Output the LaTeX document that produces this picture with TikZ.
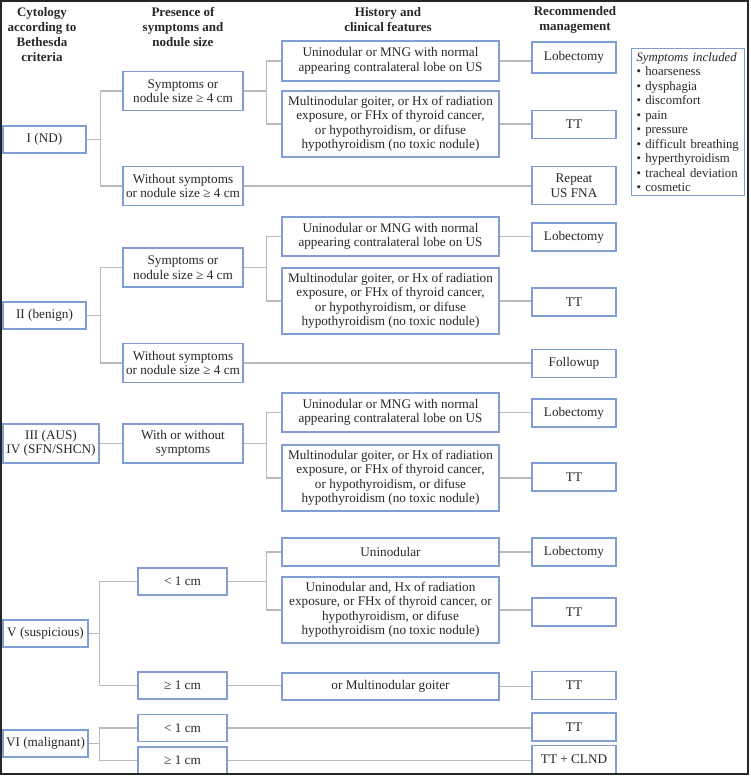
\documentclass[tikz,border=0pt]{standalone}
\usepackage{fontspec}
\setmainfont{Liberation Serif}
\definecolor{boxblue}{RGB}{128,158,214}
\definecolor{linkgray}{RGB}{185,185,185}
\definecolor{txtgray}{RGB}{40,40,40}
\begin{document}
\begin{tikzpicture}[x=1pt,y=-1pt,
  every node/.style={font=\fontsize{13.2}{14.5}\selectfont, text=txtgray},
  hd/.style={font=\bfseries\fontsize{13}{15}\selectfont, align=center, inner sep=0pt},
  bx/.style={draw=boxblue, line width=1.3pt, fill=white, align=center, inner sep=0pt},
  cyt/.style={bx, minimum width=83, minimum height=27},
  sym/.style={bx, minimum width=120, minimum height=39},
  size/.style={bx, minimum width=89, minimum height=27},
  hist/.style={bx, minimum width=217},
  mg/.style={bx, minimum width=84, minimum height=28},
  link/.style={draw=linkgray, line width=1.3pt}]
\useasboundingbox (0,0) rectangle (750,778);
\fill[white] (0,0) rectangle (750,778);

\draw (42,34.5) node[hd] (hcyt) {Cytology\\according to\\Bethesda\\criteria};
\draw (183,27) node[hd] (hsym) {Presence of\\symptoms and\\nodule size};
\draw (388,19.5) node[hd] (hhist) {History and\\clinical features};
\draw (575,19.5) node[hd] (hmg) {Recommended\\management};

% I (ND)
\draw (44.5,139.5) node[cyt] (nd) {I (ND)};
\draw (183,91) node[sym] (sym1) {Symptoms or\\nodule size ≥ 4 cm};
\draw (183,186) node[sym] (wo1) {Without symptoms\\or nodule size ≥ 4 cm};
\draw (390.5,61) node[hist, minimum height=40] (h1) {Uninodular or MNG with normal\\appearing contralateral lobe on US};
\draw (390.5,124) node[hist, minimum height=66] (h2) {Multinodular goiter, or Hx of radiation\\exposure, or FHx of thyroid cancer,\\or hypothyroidism, or difuse\\hypothyroidism (no toxic nodule)};
\draw (574,57.5) node[mg, minimum height=31] (m1) {Lobectomy};
\draw (574,124.5) node[mg] (m2) {TT};
\draw (574,185.5) node[mg, minimum height=38] (m3) {Repeat\\US FNA};

% II (benign)
\draw (44.5,315.5) node[cyt] (benign) {II (benign)};
\draw (183,267.5) node[sym] (sym2) {Symptoms or\\nodule size ≥ 4 cm};
\draw (183,363) node[sym] (wo2) {Without symptoms\\or nodule size ≥ 4 cm};
\draw (390.5,236.5) node[hist, minimum height=39] (h3) {Uninodular or MNG with normal\\appearing contralateral lobe on US};
\draw (390.5,301) node[hist, minimum height=66] (h4) {Multinodular goiter, or Hx of radiation\\exposure, or FHx of thyroid cancer,\\or hypothyroidism, or difuse\\hypothyroidism (no toxic nodule)};
\draw (574,237) node[mg] (m4) {Lobectomy};
\draw (574,302) node[mg] (m5) {TT};
\draw (574,363.5) node[mg] (m6) {Followup};

% III / IV
\draw (51,443.5) node[bx, minimum width=96, minimum height=39] (aus) {III (AUS)\\IV (SFN/SHCN)};
\draw (183,443.5) node[sym] (with) {With or without\\symptoms};
\draw (390.5,412.5) node[hist, minimum height=39] (h5) {Uninodular or MNG with normal\\appearing contralateral lobe on US};
\draw (390.5,478) node[hist, minimum height=66] (h6) {Multinodular goiter, or Hx of radiation\\exposure, or FHx of thyroid cancer,\\or hypothyroidism, or difuse\\hypothyroidism (no toxic nodule)};
\draw (574,413) node[mg] (m7) {Lobectomy};
\draw (574,477) node[mg] (m8) {TT};

% V (suspicious)
\draw (45.5,633.5) node[cyt, minimum width=85] (susp) {V (suspicious)};
\draw (182.5,581.5) node[size] (lt1) {< 1 cm};
\draw (182.5,685.5) node[size] (ge1) {≥ 1 cm};
\draw (390.5,552) node[hist, minimum height=28] (h7) {Uninodular};
\draw (390.5,610) node[hist, minimum height=66] (h8) {Uninodular and, Hx of radiation\\exposure, or FHx of thyroid cancer, or\\hypothyroidism, or difuse\\hypothyroidism (no toxic nodule)};
\draw (390.5,686.5) node[hist, minimum height=27] (h9) {or Multinodular goiter};
\draw (574,552) node[mg] (m9) {Lobectomy};
\draw (574,612) node[mg] (m10) {TT};
\draw (574,685.5) node[mg] (m11) {TT};

% VI (malignant)
\draw (45.5,743.5) node[cyt, minimum width=85] (malig) {VI (malignant)};
\draw (182.5,728) node[size] (lt2) {< 1 cm};
\draw (182.5,760.5) node[size] (ge2) {≥ 1 cm};
\draw (574,727) node[mg] (m12) {TT};
\draw (574,759.5) node[mg] (m13) {TT + CLND};

\draw (688,122) node[bx, minimum width=112, minimum height=144, text width=103, align=left, inner xsep=5pt, inner ysep=4pt, font=\fontsize{12.8}{14.5}\selectfont] (incl) {\textit{Symptoms included}\\• hoarseness\\• dysphagia\\• discomfort\\• pain\\• pressure\\• difficult breathing\\• hyperthyroidism\\• tracheal deviation\\• cosmetic};

\draw[link] (nd.east) -- ++(14,0) coordinate (b1);
\draw[link] (sym1.west) -| (b1) |- (wo1.west);
\draw[link] (sym1.east) -- ++(23,0) coordinate (b2);
\draw[link] (h1.west) -| (b2) |- (h2.west);
\draw[link] (h1.east) -- (h1.east -| m1.west);
\draw[link] (h2.east) -- (h2.east -| m2.west);
\draw[link] (wo1.east) -- (wo1.east -| m3.west);

\draw[link] (benign.east) -- ++(14,0) coordinate (b3);
\draw[link] (sym2.west) -| (b3) |- (wo2.west);
\draw[link] (sym2.east) -- ++(23,0) coordinate (b4);
\draw[link] (h3.west) -| (b4) |- (h4.west);
\draw[link] (h3.east) -- (h3.east -| m4.west);
\draw[link] (h4.east) -- (h4.east -| m5.west);
\draw[link] (wo2.east) -- (wo2.east -| m6.west);

\draw[link] (aus.east) -- (with.west);
\draw[link] (with.east) -- ++(23,0) coordinate (b5);
\draw[link] (h5.west) -| (b5) |- (h6.west);
\draw[link] (h5.east) -- (h5.east -| m7.west);
\draw[link] (h6.east) -- (h6.east -| m8.west);

\draw[link] (susp.east) -- ++(11,0) coordinate (b6);
\draw[link] (lt1.west) -| (b6) |- (ge1.west);
\draw[link] (lt1.east) -- ++(39,0) coordinate (b7);
\draw[link] (h7.west) -| (b7) |- (h8.west);
\draw[link] (h7.east) -- (h7.east -| m9.west);
\draw[link] (h8.east) -- (h8.east -| m10.west);
\draw[link] (ge1.east) -- (ge1.east -| h9.west);
\draw[link] (h9.east) -- (h9.east -| m11.west);

\draw[link] (malig.east) -- ++(11,0) coordinate (b8);
\draw[link] (lt2.west) -| (b8) |- (ge2.west);
\draw[link] (lt2.east) -- (lt2.east -| m12.west);
\draw[link] (ge2.east) -- (ge2.east -| m13.west);

\draw[line width=2pt, black!85] (1,1) rectangle (747.5,773.5);
\end{tikzpicture}
\end{document}
